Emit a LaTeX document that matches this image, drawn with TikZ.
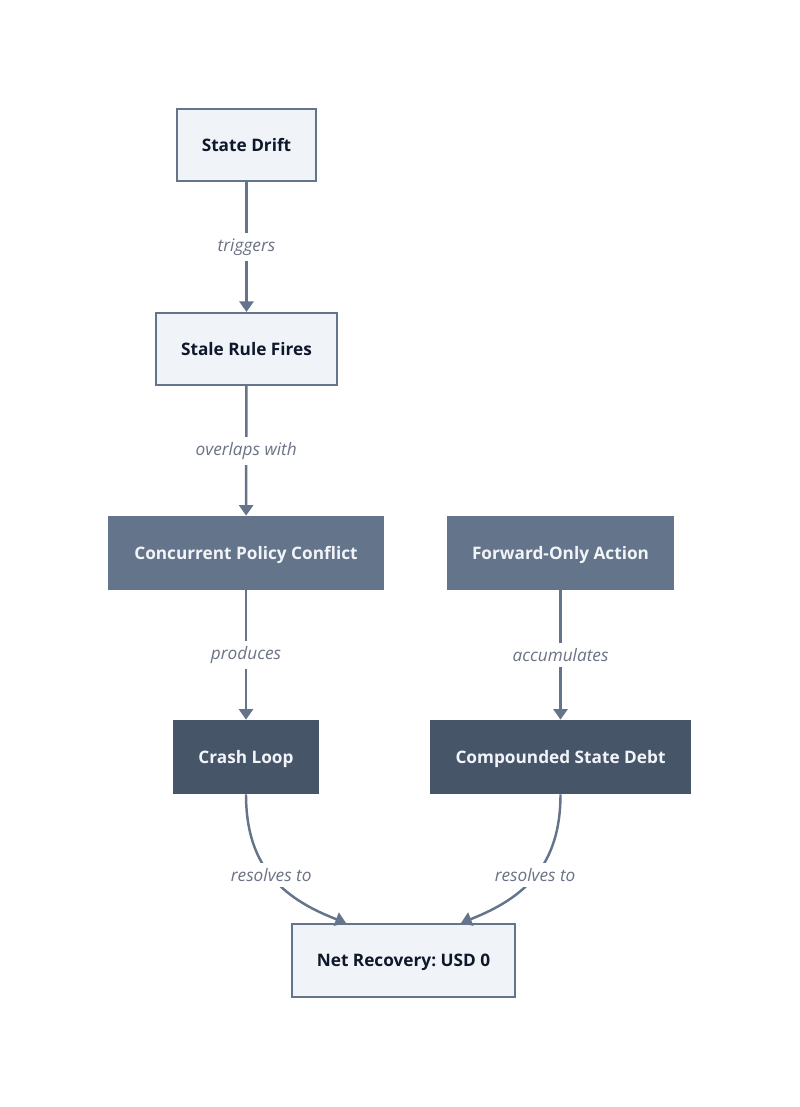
\documentclass[tikz,border=0pt]{standalone}
\usepackage{fontspec}
\setmainfont{Open Sans}
\usepackage{tikz}
\usepackage{xcolor}
\usetikzlibrary{arrows.meta,positioning,shapes,calc}
\frenchspacing
\definecolor{paleblue}{HTML}{F0F3F8}
\definecolor{slate}{HTML}{64748B}
\definecolor{darkslate}{HTML}{475569}
\definecolor{ink}{HTML}{0F172A}
\definecolor{labelgray}{HTML}{6B7285}
\definecolor{boxtext}{HTML}{F1F5F9}
\tikzset{
  lightbox/.style={draw=slate,fill=paleblue,line width=1.2pt,
                   minimum height=1.44cm,text=ink,text height=0.73em,text depth=0pt,
                   align=center,font=\fontsize{9.8}{12}\selectfont\bfseries,inner sep=4pt},
  midbox/.style={draw=none,fill=slate,text height=0.73em,text depth=0pt,
                 minimum height=1.48cm,text=boxtext,
                 align=center,font=\fontsize{9.8}{12}\selectfont\bfseries,inner sep=4pt},
  darkbox/.style={draw=none,fill=darkslate,text height=0.73em,text depth=0pt,
                  minimum height=1.48cm,text=boxtext,
                  align=center,font=\fontsize{9.8}{12}\selectfont\bfseries,inner sep=4pt},
  edgearr/.style={-{Triangle[length=6pt,width=8pt]},line width=1.4pt,color=slate},
  edgelabel/.style={fill=white,text=labelgray,inner sep=3pt,
                    font=\fontsize{9.8}{12}\selectfont\itshape}
}
\begin{document}
\begin{tikzpicture}[x=1cm,y=1cm]
  \useasboundingbox (0,0) rectangle (16,-22.14);
  \node[lightbox,minimum width=2.78cm] (drift) at (4.93,-2.90) {State Drift};
  \node[lightbox,minimum width=3.62cm] (stale) at (4.93,-6.98) {Stale Rule Fires};
  \node[midbox,minimum width=5.52cm] (conflict) at (4.92,-11.06) {Concurrent Policy Conflict};
  \node[midbox,minimum width=4.54cm] (forward) at (11.21,-11.06) {Forward-Only Action};
  \node[darkbox,minimum width=2.92cm] (crash) at (4.92,-15.14) {Crash Loop};
  \node[darkbox,minimum width=5.22cm] (debt) at (11.21,-15.14) {Compounded State Debt};
  \node[lightbox,minimum width=4.46cm,minimum height=1.46cm] (net) at (8.07,-19.21) {Net Recovery: USD 0};
  \draw[edgearr] (drift) -- node[edgelabel] {triggers} (stale);
  \draw[edgearr] (stale) -- node[edgelabel] {overlaps with} (conflict);
  \draw[edgearr] (conflict) -- node[edgelabel] {produces} (crash);
  \draw[edgearr] (forward) -- node[edgelabel] {accumulates} (debt);
  \draw[edgearr] (crash.south) .. controls ($(crash.south)+(0,-1.4)$) and (5.6,-17.95)
    .. node[edgelabel,pos=0.5] {resolves to} ($(net.north)+(-1.15,0)$);
  \draw[edgearr] (debt.south) .. controls ($(debt.south)+(0,-1.4)$) and (10.52,-17.95)
    .. node[edgelabel,pos=0.5] {resolves to} ($(net.north)+(1.15,0)$);
\end{tikzpicture}
\end{document}
